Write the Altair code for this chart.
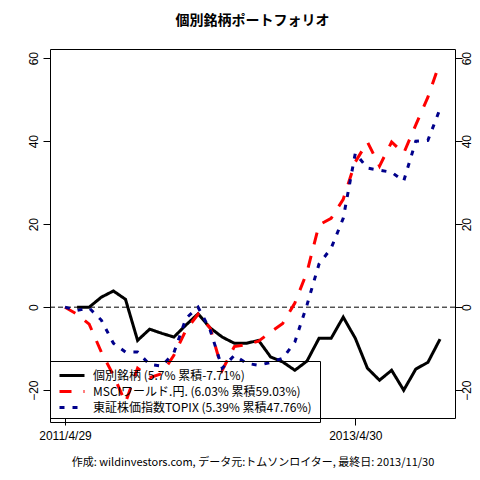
import altair as alt
import pandas as pd

# month index 0 = 2011/4 ... 31 = 2013/11
idx = list(range(32))
stock = [None, 0.0, 0.0, 2.4, 3.9, 1.9, -8.0, -5.3, -6.3, -7.2, -4.3, -1.6,
         -5.0, -7.2, -8.7, -8.7, -8.0, -12.0, -13.2, -15.2, -13.0, -7.5, -7.5, -2.4,
         -7.5, -14.7, -17.6, -15.2, -20.0, -14.9, -13.3, -7.71]
msci = [0.0, -1.7, -4.1, -10.8, -16.4, -23.0, -14.7, -17.0, -16.0, -11.6, -5.5, -1.7,
        -5.0, -15.2, -9.5, -9.0, -8.2, -6.0, -3.9, 1.0, 8.4, 19.8, 21.4, 26.0,
        35.0, 39.8, 34.0, 39.8, 37.1, 43.9, 50.6, 59.03]
topix = [0.0, -0.8, -0.2, -3.1, -8.7, -10.8, -10.8, -13.8, -14.2, -11.0, -2.7, 0.0,
         -5.5, -14.7, -11.6, -13.5, -14.0, -13.3, -12.3, -8.4, 0.5, 10.4, 14.2, 21.4,
         37.1, 33.5, 33.0, 32.5, 30.4, 40.0, 40.2, 47.76]

names = ["個別銘柄 (5.7% 累積-7.71%)",
         "MSCIワールド.円. (6.03% 累積59.03%)",
         "東証株価指数TOPIX (5.39% 累積47.76%)"]
colors = ["#000000", "#FF0000", "#00008B"]
dashes = [[1, 0], [12, 12], [5, 8]]

x_tick_values = [0, 24]
x_tick_labels = ["2011/4/29", "2013/4/30"]
y_ticks = [-20, 0, 20, 40, 60]

title_text = "個別銘柄ポートフォリオ"
footer_text = "作成: wildinvestors.com, データ元:トムソンロイター, 最終日: 2013/11/30"

rows = []
for name, series in zip(names, [stock, msci, topix]):
    for i, v in zip(idx, series):
        if v is not None:
            rows.append({"i": i, "v": v, "s": name})
df = pd.DataFrame(rows)

label_expr = "''"
for val, lab in zip(reversed(x_tick_values), reversed(x_tick_labels)):
    label_expr = f"datum.value == {val} ? '{lab}' : ({label_expr})"

xscale = alt.Scale(domain=[-1.24, 32.24], nice=False, zero=False)
yscale = alt.Scale(domain=[-26.7, 62.2], nice=False, zero=False)

x_axis = alt.Axis(values=x_tick_values, labelExpr=label_expr, title=footer_text,
                  domain=False, grid=False, tickSize=7, tickColor="black",
                  labelFont="Liberation Sans", labelFontSize=12, labelColor="black",
                  labelPadding=5, labelAngle=0,
                  titleFont="Noto Sans CJK JP", titleFontSize=11, titleFontWeight="normal",
                  titleColor="black", titleY=47, titleBaseline="alphabetic")
xenc = alt.X("i:Q", scale=xscale, axis=x_axis)

common_y = dict(values=y_ticks, domain=False, grid=False, tickSize=7, tickColor="black",
                labelFont="Liberation Sans", labelFontSize=12, labelColor="black",
                labelAngle=270, labelAlign="center", title=None)
left_axis = alt.Axis(orient="left", labelBaseline="bottom", labelPadding=3, **common_y)
right_axis = alt.Axis(orient="right", labelBaseline="middle", labelPadding=4, **common_y)

legend = alt.Legend(title=None, orient="none", legendX=0, legendY=312,
                    strokeColor="black", padding=8, symbolType="M-1,0H4",
                    symbolSize=100, symbolStrokeWidth=3, labelFont="Noto Sans CJK JP",
                    labelFontSize=12, labelColor="black", labelOffset=22, labelLimit=0,
                    rowPadding=3)

lines = alt.Chart(df).mark_line(strokeWidth=3, strokeCap="butt").encode(
    x=xenc,
    y=alt.Y("v:Q", scale=yscale, axis=left_axis),
    color=alt.Color("s:N", scale=alt.Scale(domain=names, range=colors), legend=legend),
    strokeDash=alt.StrokeDash("s:N", scale=alt.Scale(domain=names, range=dashes), legend=legend),
)

right = alt.Chart(df).mark_line(opacity=0).encode(
    x=xenc,
    y=alt.Y("v:Q", scale=yscale, axis=right_axis),
    detail="s:N",
)

zero = alt.Chart(pd.DataFrame({"z": [0]})).mark_rule(
    color="black", strokeWidth=1, strokeDash=[5, 3]
).encode(y=alt.Y("z:Q", scale=yscale, axis=None))

chart = alt.layer(zero, lines, right).resolve_axis(y="independent").properties(
    width=405, height=369,
    autosize=alt.AutoSizeParams(type="none"),
    padding={"left": 42, "top": 41, "right": 17, "bottom": 52},
    title=alt.Title(title_text, font="Noto Sans CJK JP", fontSize=14, fontWeight="bold",
                    color="black", anchor="middle", frame="group", offset=21),
).configure_view(stroke="black", strokeWidth=1)

chart.save("out.html", embed_options={"renderer": "svg", "actions": False})
